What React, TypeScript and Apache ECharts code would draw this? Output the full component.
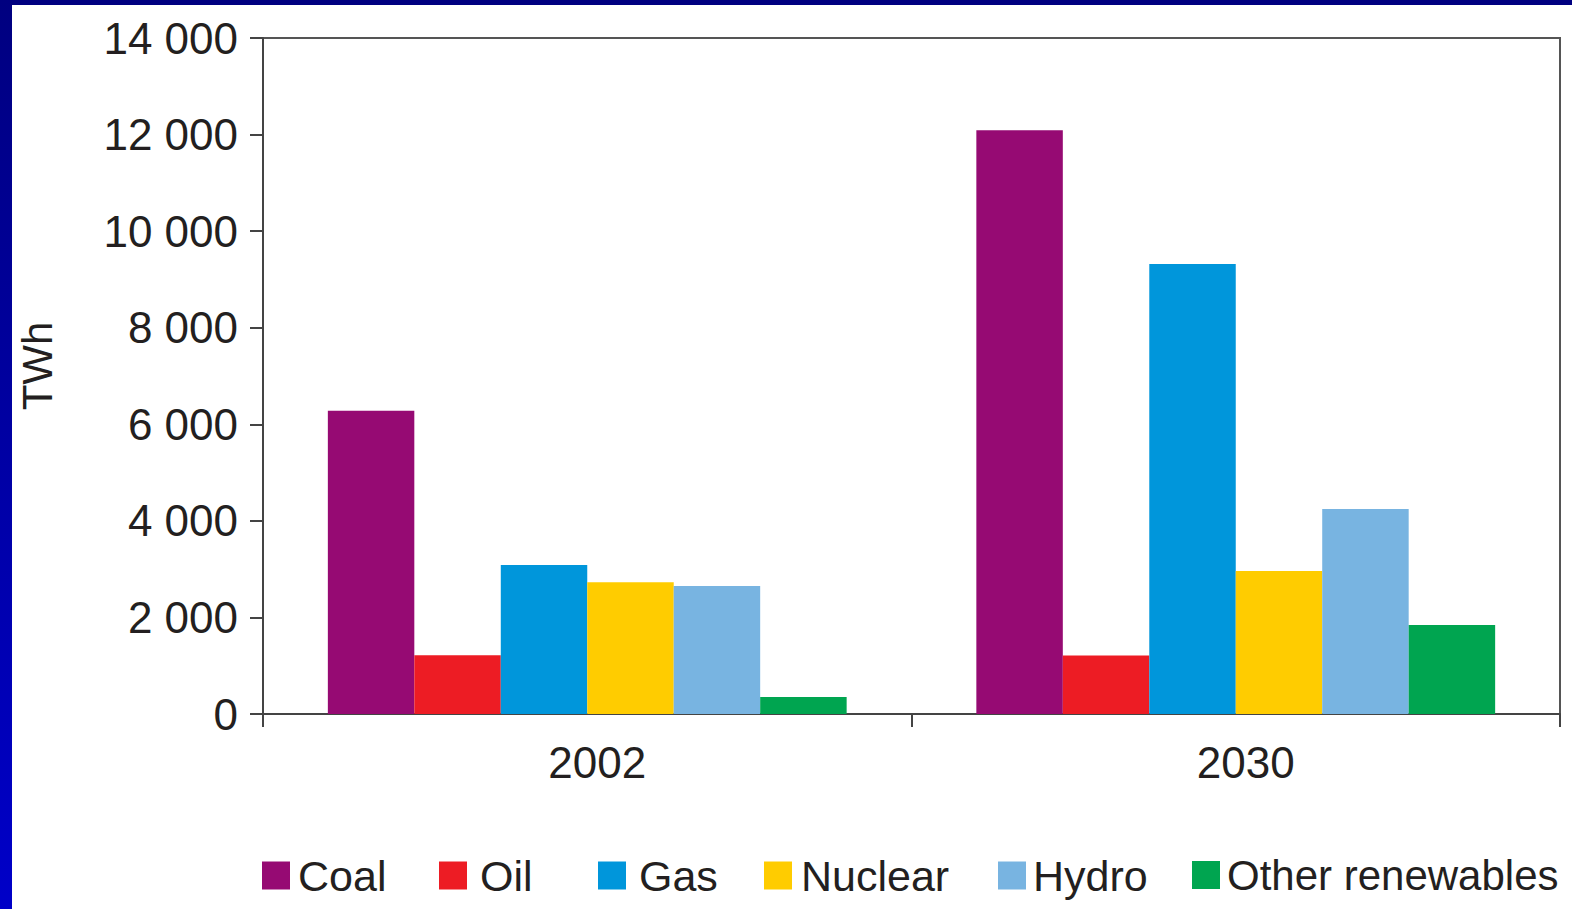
import React, { useEffect, useRef } from "react";
import * as echarts from "echarts";

const categories = ["2002", "2030"];
const seriesNames = ["Coal", "Oil", "Gas", "Nuclear", "Hydro", "Other renewables"];
const coal = [6280, 12090];
const oil = [1215, 1210];
const gas = [3085, 9320];
const nuclear = [2730, 2960];
const hydro = [2650, 4245];
const otherRenewables = [350, 1845];
const seriesValues = [coal, oil, gas, nuclear, hydro, otherRenewables];
const colors = ["#960A73", "#ED1C24", "#0096DB", "#FFCC00", "#78B4E1", "#00A550"];
const legendLefts = [262, 439, 598, 764, 998, 1192];
const legendTextPad = [3, 8, 8, 4, 2, 2];
const legendFontSizes = [43, 43, 43, 43, 43, 42];

const FONT = "Liberation Sans";

export default function App() {
  const ref = useRef<HTMLDivElement>(null);
  useEffect(() => {
    document.body.style.margin = "0";
    const chart = echarts.init(ref.current!, null, { renderer: "svg" });
    chart.setOption({
      animation: false,
      backgroundColor: new echarts.graphic.LinearGradient(0, 0, 0, 1, [
        { offset: 0, color: "#000080" },
        { offset: 1, color: "#0000C8" },
      ]),
      graphic: [
        {
          type: "rect",
          z: -100,
          shape: { x: 12, y: 5, width: 1560, height: 904 },
          style: { fill: "#ffffff" },
        },
      ],
      grid: {
        left: 263,
        right: 12,
        top: 38,
        bottom: 195,
        show: true,
        borderColor: "#555555",
        borderWidth: 2,
        backgroundColor: "transparent",
      },
      legend: seriesNames.map((n, i) => ({
        data: [n],
        left: legendLefts[i],
        top: 854,
        padding: 0,
        itemWidth: 28,
        itemHeight: 28,
        icon: "rect",
        textStyle: {
          fontFamily: FONT,
          fontSize: legendFontSizes[i],
          color: "#231F20",
          padding: [0, 0, 0, legendTextPad[i]],
        },
      })),
      xAxis: {
        type: "category",
        data: categories,
        axisLine: { lineStyle: { color: "#444444", width: 2 } },
        axisTick: { show: true, length: 13, lineStyle: { color: "#444444", width: 2 } },
        axisLabel: {
          fontFamily: FONT,
          fontSize: 44,
          color: "#231F20",
          margin: 26,
          padding: [0, 0, 0, 20],
        },
      },
      yAxis: {
        type: "value",
        min: 0,
        max: 14000,
        interval: 2000,
        name: "TWh",
        nameLocation: "middle",
        nameGap: 205,
        nameRotate: 90,
        nameTextStyle: { fontFamily: FONT, fontSize: 42, color: "#231F20", padding: [0, 0, 0, 20] },
        axisLine: { show: true, lineStyle: { color: "#444444", width: 2 } },
        axisTick: { show: true, length: 13, lineStyle: { color: "#444444", width: 2 } },
        splitLine: { show: false },
        axisLabel: {
          fontFamily: FONT,
          fontSize: 44,
          color: "#231F20",
          margin: 25,
          formatter: (v: number) => String(v).replace(/\B(?=(\d{3})+(?!\d))/g, " "),
        },
      },
      series: seriesNames.map((n, i) => ({
        name: n,
        type: "bar",
        data: seriesValues[i],
        barGap: "0%",
        barCategoryGap: "20%",
        itemStyle: { color: colors[i] },
      })),
    });
    return () => chart.dispose();
  }, []);
  return <div ref={ref} style={{ width: 1572, height: 909 }} />;
}
